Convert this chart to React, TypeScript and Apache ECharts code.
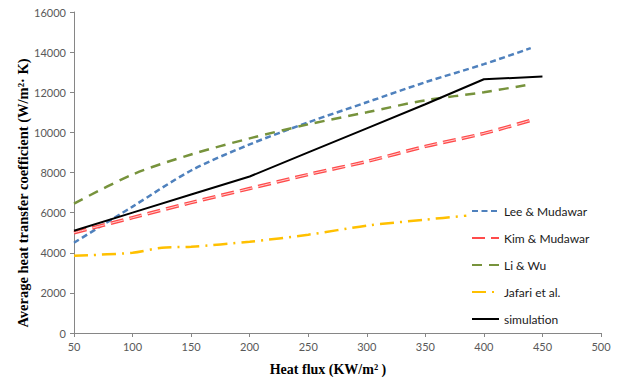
import React, { useEffect, useRef } from "react";
import * as echarts from "echarts";

// Heat flux (KW/m²) and average heat transfer coefficient (W/m²·K)
const leeX = [50, 100, 150, 200, 250, 300, 350, 400, 440];
const leeY = [4500, 6300, 8100, 9400, 10500, 11500, 12500, 13400, 14200];

const kimX = [50, 100, 150, 200, 250, 300, 350, 400, 440];
const kimY = [5000, 5750, 6500, 7200, 7900, 8550, 9300, 9950, 10600];

const liX = [50, 100, 150, 200, 250, 300, 350, 400, 440];
const liY = [6450, 7900, 8900, 9700, 10400, 11000, 11600, 12000, 12400];

const jafX = [50, 100, 125, 150, 200, 250, 300, 350, 385];
const jafY = [3850, 4000, 4250, 4300, 4550, 4900, 5350, 5650, 5850];

const simX = [50, 100, 150, 200, 250, 300, 350, 400, 450];
const simY = [5100, 6000, 6900, 7800, 9000, 10200, 11400, 12650, 12780];

const seriesNames = ["Lee & Mudawar", "Kim & Mudawar", "Li & Wu", "Jafari et al.", "simulation"];

const pairs = (xs: number[], ys: number[]) => xs.map((x, i) => [x, ys[i]]);

export default function App() {
  const ref = useRef<HTMLDivElement>(null);
  useEffect(() => {
    const chart = echarts.init(ref.current!, null, { renderer: "svg" });
    const labelFont = { fontFamily: "Lato", fontSize: 11, color: "#595959" };
    chart.setOption({
      animation: false,
      backgroundColor: "#ffffff",
      grid: { left: 74, right: 16, top: 12, bottom: 55, containLabel: false },
      xAxis: {
        type: "value",
        min: 50,
        max: 500,
        interval: 50,
        axisLine: { show: true, lineStyle: { color: "#868686", width: 1 } },
        axisTick: { show: true, length: 4, lineStyle: { color: "#868686" } },
        axisLabel: { ...labelFont, margin: 8, formatter: (v: number) => String(v) },
        splitLine: { show: false },
      },
      yAxis: {
        type: "value",
        min: 0,
        max: 16000,
        interval: 2000,
        axisLine: { show: true, lineStyle: { color: "#868686", width: 1 } },
        axisTick: { show: true, length: 4, lineStyle: { color: "#868686" } },
        axisLabel: { ...labelFont, margin: 8, formatter: (v: number) => String(v) },
        splitLine: { show: false },
      },
      legend: {
        data: seriesNames,
        orient: "vertical",
        left: 471,
        top: 205,
        itemWidth: 27,
        itemHeight: 12,
        itemGap: 15,
        padding: 0,
        backgroundColor: "#ffffff",
        itemStyle: { opacity: 0 },
        textStyle: { fontFamily: "Lato", fontSize: 12, color: "#1a1a1a" },
      },
      graphic: [
        {
          type: "text",
          x: 23,
          y: 193,
          rotation: Math.PI / 2,
          style: {
            text: "Average heat transfer coefficient (W/m²· K)",
            font: "bold 14.5px 'Liberation Serif'",
            fill: "#000",
            align: "center",
            verticalAlign: "middle",
          },
        },
        {
          type: "text",
          x: 328,
          y: 369,
          style: {
            text: "Heat flux (KW/m² )",
            font: "bold 14px 'Liberation Serif'",
            fill: "#000",
            align: "center",
            verticalAlign: "middle",
          },
        },
      ],
      series: [
        {
          name: "Lee & Mudawar",
          type: "line",
          data: pairs(leeX, leeY),
          symbol: "none",
          smooth: 0.3,
          itemStyle: { color: "#4f81bd" },
          lineStyle: { color: "#4f81bd", width: 2.5, type: [6, 3.5] },
        },
        {
          name: "Kim & Mudawar",
          type: "line",
          data: pairs(kimX, kimY),
          symbol: "none",
          smooth: 0.3,
          itemStyle: { color: "#ff4b4b" },
          lineStyle: { color: "#ff4b4b", width: 3.5, type: [13, 6] },
        },
        {
          name: "_kimInner",
          type: "line",
          data: pairs(kimX, kimY),
          symbol: "none",
          smooth: 0.3,
          silent: true,
          itemStyle: { color: "#ffd0d0" },
          lineStyle: { color: "#ffd0d0", width: 1, type: [13, 6] },
        },
        {
          name: "Li & Wu",
          type: "line",
          data: pairs(liX, liY),
          symbol: "none",
          smooth: 0.3,
          itemStyle: { color: "#77933c" },
          lineStyle: { color: "#77933c", width: 2.5, type: [10, 7] },
        },
        {
          name: "Jafari et al.",
          type: "line",
          data: pairs(jafX, jafY),
          symbol: "none",
          smooth: 0.3,
          itemStyle: { color: "#ffc000" },
          lineStyle: { color: "#ffc000", width: 2.5, type: [14, 6, 2, 6] },
        },
        {
          name: "simulation",
          type: "line",
          data: pairs(simX, simY),
          symbol: "none",
          itemStyle: { color: "#000000" },
          lineStyle: { color: "#000000", width: 2 },
        },
      ],
    });
    return () => chart.dispose();
  }, []);
  return (
    <div
      ref={ref}
      style={{ position: "absolute", left: 0, top: 0, width: 617, height: 388 }}
    />
  );
}
